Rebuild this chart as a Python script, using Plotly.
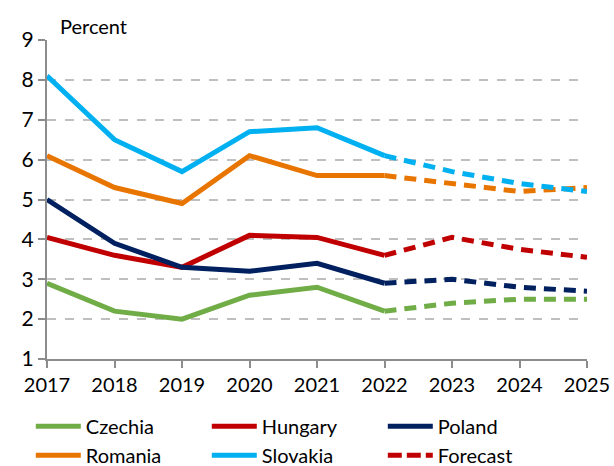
import plotly.graph_objects as go

years = [2017, 2018, 2019, 2020, 2021, 2022, 2023, 2024, 2025]
countries = ["Czechia", "Hungary", "Poland", "Romania", "Slovakia"]
czechia = [2.9, 2.2, 2.0, 2.6, 2.8, 2.2, 2.4, 2.5, 2.5]
hungary = [4.05, 3.6, 3.3, 4.1, 4.05, 3.6, 4.05, 3.75, 3.55]
poland = [5.0, 3.9, 3.3, 3.2, 3.4, 2.9, 3.0, 2.8, 2.7]
romania = [6.1, 5.3, 4.9, 6.1, 5.6, 5.6, 5.4, 5.2, 5.3]
slovakia = [8.1, 6.5, 5.7, 6.7, 6.8, 6.1, 5.7, 5.4, 5.2]
last_actual_year = 2022
y_ticks = [1, 2, 3, 4, 5, 6, 7, 8, 9]

series = [czechia, hungary, poland, romania, slovakia]
colors = ["#70AD47", "#C00000", "#002060", "#E87500", "#00B0F0"]

FONT = "Lato"
fig = go.Figure()
split = years.index(last_actual_year)

for name, vals, col in zip(countries, series, colors):
    fig.add_trace(go.Scatter(
        x=years[:split + 1], y=vals[:split + 1], mode="lines", name=name,
        line=dict(color=col, width=5)))
for name, vals, col in zip(countries, series, colors):
    fig.add_trace(go.Scatter(
        x=years[split:], y=vals[split:], mode="lines", name=name + " forecast",
        line=dict(color=col, width=5, dash="12px,8px"), showlegend=False))

fig.add_trace(go.Scatter(
    x=[None], y=[None], mode="lines", name="Forecast",
    line=dict(color="#C00000", width=5, dash="14px,5px")))

fig.update_layout(
    width=614, height=466,
    margin=dict(l=47, r=27, t=40, b=107, autoexpand=False),
    plot_bgcolor="white", paper_bgcolor="white",
    font=dict(family=FONT, size=19, color="#000000"),
    showlegend=True,
    legend=dict(orientation="h", x=-0.03, y=-0.15, xanchor="left", yanchor="top",
                entrywidth=116, entrywidthmode="pixels",
                font=dict(family=FONT, size=20), tracegroupgap=0,
                itemwidth=45),
    annotations=[dict(text="Percent", x=0.02, y=1.0, xref="paper", yref="paper",
                      xanchor="left", yanchor="bottom", showarrow=False,
                      font=dict(family=FONT, size=20))],
)
fig.update_xaxes(range=[2017, 2025], tickvals=years, showgrid=False,
                 showline=True, linecolor="#8C8C8C", linewidth=2,
                 ticks="outside", ticklen=7, tickcolor="#8C8C8C", tickwidth=2,
                 zeroline=False, tickfont=dict(size=20))
fig.update_yaxes(range=[1, 9], tickvals=y_ticks, showgrid=True,
                 gridcolor="#BFBFBF", gridwidth=1.5, griddash="dash",
                 showline=True, linecolor="#8C8C8C", linewidth=2,
                 ticks="outside", ticklen=7, tickcolor="#8C8C8C", tickwidth=2,
                 zeroline=False, tickfont=dict(size=21))

fig.write_html("out.html", config={"displayModeBar": False},
               post_script="document.body.style.margin='0';document.body.style.padding='0';")
